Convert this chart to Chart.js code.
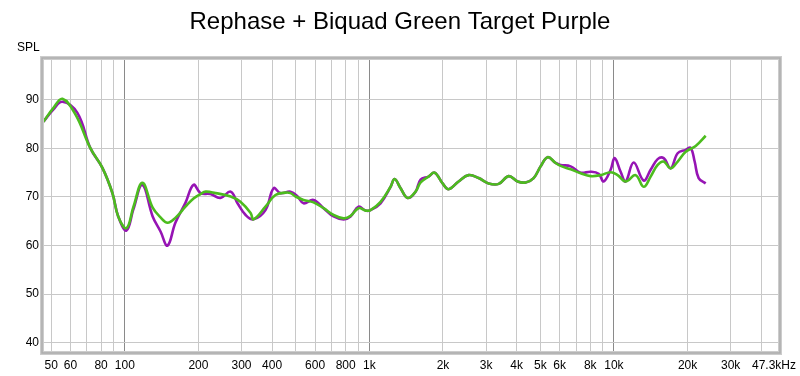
<!DOCTYPE html>
<html>
<head>
<meta charset="utf-8">
<script src="https://cdn.jsdelivr.net/npm/chart.js@4/dist/chart.umd.min.js"></script>
<style>
  html, body { margin: 0; padding: 0; background: #ffffff; }
  #wrap { width: 800px; height: 376px; position: relative; }
</style>
</head>
<body>
<div id="wrap"><canvas id="c" width="800" height="376"></canvas></div>
<script>
// ---- Data ----
const titleText = "Rephase + Biquad Green Target Purple";
const yAxisTitle = "SPL";

const greenFreq = [46.5,51,55.6,63,72.4,81,89,94,101.6,108.5,118,130,140,149.5,161,177,191,204,214,235,271,297,327,336,376,413,454,476,499,538,591,650,714,785,838,903,965,1011,1111,1221,1268,1342,1433,1545,1620,1746,1848,1993,2108,2316,2545,2797,3073,3377,3710,4038,4355,4695,5013,5355,5775,6053,6652,7310,8031,8824,9694,10354,11166,12266,13226,14127,15092,15970,17058,18220,19650,21590,23720];
const greenDb   = [85.5,88.3,90.2,86.9,80.0,76.0,70.8,66.0,63.6,68.0,72.9,67.8,65.8,64.7,65.7,68.0,69.7,70.6,71.1,70.8,70.1,69.0,66.7,65.4,68.0,70.4,70.9,70.8,70.1,69.4,68.9,67.7,66.3,65.6,66.1,67.7,67.2,67.3,69.0,72.1,73.7,71.8,69.8,71.1,73.0,74.2,75.0,72.8,71.6,73.2,74.5,73.9,72.8,72.7,74.3,73.2,73.0,73.9,76.3,78.2,77.0,76.4,75.7,74.9,74.3,74.5,75.1,74.5,73.2,74.5,72.1,74.2,76.6,77.3,75.9,77.3,79.3,80.5,82.6];

const purpleFreq = [46.5,51,55.6,64,72.4,81,89,94,101.6,108.5,118,130,140,149.5,161,177,191,204,224,246,271,289,312,336,376,406,433,476,509,538,591,650,714,785,838,903,965,1011,1111,1221,1268,1342,1433,1545,1620,1746,1848,1993,2108,2316,2545,2797,3073,3377,3710,4038,4355,4695,5013,5355,5775,6053,6652,7310,8031,8659,9077,9694,10067,10650,11166,12037,13226,14127,15092,15970,17058,18220,19650,20590,21380,22200,23720];
const purpleDb   = [85.5,88.0,89.6,87.3,80.0,76.0,70.8,66.0,63.1,67.5,72.5,66.0,62.9,60.0,64.7,68.8,72.5,70.8,70.6,69.8,71.1,68.7,66.3,65.4,67.3,71.8,70.8,71.1,70.1,68.7,69.4,67.7,66.0,65.4,66.0,68.0,67.2,67.3,68.7,72.1,73.7,71.8,69.8,71.1,73.6,74.2,75.0,72.8,71.6,73.2,74.5,73.9,72.8,72.7,74.3,73.2,73.0,73.9,76.3,78.2,77.0,76.6,76.3,75.0,75.2,74.8,73.2,75.6,78.0,75.2,73.2,77.1,73.4,75.6,77.8,78.0,75.9,79.0,79.7,80.1,77.3,73.9,72.8];

const xGridFreqs = [50,60,70,80,90,100,200,300,400,500,600,700,800,900,1000,2000,3000,4000,5000,6000,7000,8000,9000,10000,20000,30000,40000];
const xLabelFreqs = [50,60,80,100,200,300,400,600,800,1000,2000,3000,4000,5000,6000,8000,10000,20000,30000,47300];
const xLabelTexts = ["50","60","80","100","200","300","400","600","800","1k","2k","3k","4k","5k","6k","8k","10k","20k","30k","47.3kHz"];
const yTicks = [40,50,60,70,80,90];
const xMin = 46.3, xMax = 47300;
const yMin = 38.1, yMax = 98.4;

// ---- Chart ----
const FONT = '"Liberation Sans", Arial, sans-serif';
const decades = [100,1000,10000];

const overlay = {
  id: 'overlay',
  afterDraw(chart) {
    const ctx = chart.ctx;
    const a = chart.chartArea;
    const xs = chart.scales.x;
    ctx.save();
    // frame
    ctx.strokeStyle = '#cccccc';
    ctx.lineWidth = 4;
    ctx.strokeRect(a.left - 1, a.top - 1, a.right - a.left + 2, a.bottom - a.top + 2);
    ctx.strokeStyle = '#adadad';
    ctx.lineWidth = 1.5;
    ctx.strokeRect(a.left - 1, a.top - 1, a.right - a.left + 2, a.bottom - a.top + 2);
    // title
    ctx.fillStyle = '#000';
    ctx.textAlign = 'center';
    ctx.textBaseline = 'middle';
    ctx.font = '24px ' + FONT;
    ctx.fillText(titleText, 400, 22);
    // SPL
    ctx.font = '12px ' + FONT;
    ctx.textAlign = 'left';
    ctx.fillText(yAxisTitle, 17, 48);
    // x labels
    ctx.textAlign = 'center';
    xLabelFreqs.forEach((f, i) => {
      let px = xs.getPixelForValue(f);
      const w = ctx.measureText(xLabelTexts[i]).width;
      if (px + w / 2 > 796) px = 796 - w / 2;
      ctx.fillText(xLabelTexts[i], px, 366);
    });
    ctx.restore();
  }
};

new Chart(document.getElementById('c'), {
  type: 'line',
  data: {
    datasets: [
      {
        label: 'Rephase + Biquad',
        data: greenFreq.map((f, i) => ({ x: f, y: greenDb[i] })),
        borderColor: '#4cbc1e',
        borderWidth: 2.6,
        pointRadius: 0,
        fill: false,
        tension: 0.4
      },
      {
        label: 'Target',
        data: purpleFreq.map((f, i) => ({ x: f, y: purpleDb[i] })),
        borderColor: '#9614b4',
        borderWidth: 2.6,
        pointRadius: 0,
        fill: false,
        tension: 0.4
      }
    ]
  },
  options: {
    responsive: false,
    animation: false,
    devicePixelRatio: 1,
    layout: { padding: { top: 59, right: 21, left: 0, bottom: 0 } },
    plugins: { legend: { display: false }, title: { display: false }, tooltip: { enabled: false } },
    scales: {
      x: {
        type: 'logarithmic',
        min: xMin, max: xMax,
        afterBuildTicks(scale) { scale.ticks = xGridFreqs.map(v => ({ value: v })); },
        afterFit(scale) { scale.height = 24; },
        ticks: { display: false, autoSkip: false },
        border: { display: false },
        grid: {
          drawTicks: false,
          lineWidth: 1,
          color: (c) => decades.includes(c.tick && c.tick.value) ? '#8a8a8a' : '#c8c8c8'
        }
      },
      y: {
        type: 'linear',
        min: yMin, max: yMax,
        afterBuildTicks(scale) { scale.ticks = yTicks.map(v => ({ value: v })); },
        afterFit(scale) { scale.width = 43; },
        ticks: { color: '#000', font: { family: FONT, size: 12 }, padding: 4 },
        border: { display: false },
        grid: { drawTicks: false, color: '#c8c8c8', lineWidth: 1 }
      }
    }
  },
  plugins: [overlay]
});
</script>
</body>
</html>
